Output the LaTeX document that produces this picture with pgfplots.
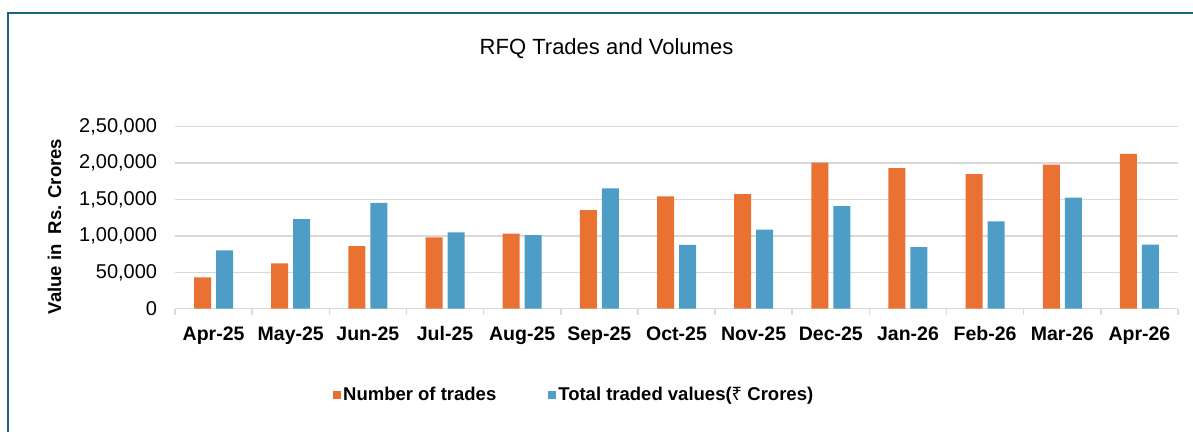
\documentclass[border=0pt]{standalone}
\usepackage{pgfplots}
\usepackage{pgfplotstable}
\pgfplotsset{compat=1.18}
\usepackage{fontspec}
\setmainfont{Liberation Sans}
\newfontfamily\noto{Noto Sans}
\definecolor{frameblue}{HTML}{1F6284}
\definecolor{barorange}{HTML}{E97132}
\definecolor{barblue}{HTML}{4E9DC6}
\definecolor{gridgray}{HTML}{D9D9D9}

\pgfplotstableread{
idx trades values
0  43000  80100
1  62300 123200
2  86100 145200
3  98000 104900
4 103000 101200
5 135500 165300
6 154300  87500
7 157500 108500
8 200600 141000
9 193200  84700
10 185000 120000
11 197800 152500
12 212500  87900
}\rfqdata

\begin{document}
\begin{tikzpicture}
\useasboundingbox (0,0) rectangle (1193bp,432bp);
\draw[frameblue, line width=2bp] (8bp,-5bp) -- (8bp,419.3bp) -- (1200bp,419.3bp);
\node[anchor=base, font=\fontsize{22bp}{24bp}\selectfont] at (606.5bp,377.7bp) {RFQ Trades and Volumes};
\node[anchor=base, rotate=90, font=\fontsize{18.5bp}{20bp}\selectfont\bfseries] at (61bp,205.5bp) {Value in\ \ Rs. Crores};
\begin{axis}[
  at={(175bp,123.3bp)}, anchor=south west,
  scale only axis, width=1003bp, height=182bp,
  xmin=-0.5, xmax=12.5, ymin=0, ymax=250000,
  ybar=5bp, bar width=17bp,
  axis x line*=bottom, axis y line*=left,
  y axis line style={draw=none},
  x axis line style={gridgray, line width=1.5bp, -},
  xtick={0,...,12},
  xticklabels={Apr-25,May-25,Jun-25,Jul-25,Aug-25,Sep-25,Oct-25,Nov-25,Dec-25,Jan-26,Feb-26,Mar-26,Apr-26},
  major tick length=0pt,
  minor xtick={-0.5,0.5,...,12.5},
  minor x tick style={gridgray, line width=1.5bp},
  minor tick length=6bp,
  tick align=outside,
  ytick={0,50000,100000,150000,200000,250000},
  yticklabels={0,{50,000},{1,00,000},{1,50,000},{2,00,000},{2,50,000}},
  scaled y ticks=false,
  ymajorgrids, grid style={gridgray, line width=1.5bp},
  xticklabel style={font=\fontsize{19.5bp}{21bp}\selectfont\bfseries, yshift=-14.5bp},
  yticklabel style={font=\fontsize{20bp}{21bp}\selectfont, xshift=-14.4bp},
  legend columns=2,
  legend style={draw=none, fill=none, at={(0.1575,-0.474)}, anchor=west, inner sep=0pt,
    font=\fontsize{18.5bp}{20bp}\selectfont\bfseries,
    /tikz/every even column/.append style={column sep=50bp}},
  legend image code/.code={\fill[#1] (0bp,-4bp) rectangle (8bp,4bp);},
]
\addplot[fill=barorange, draw=none] table[x=idx, y=trades] {\rfqdata};
\addlegendentry{Number of trades}
\addplot[fill=barblue, draw=none] table[x=idx, y=values] {\rfqdata};
\addlegendentry{Total traded values({\noto ₹} Crores)}
\end{axis}
\end{tikzpicture}
\end{document}
